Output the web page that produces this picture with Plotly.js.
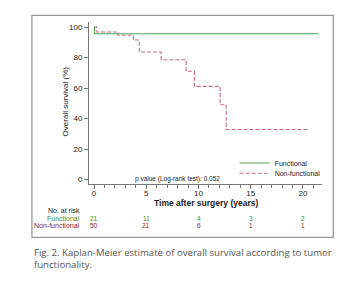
<!DOCTYPE html>
<html>
<head>
<meta charset="utf-8">
<script src="https://cdn.plot.ly/plotly-3.0.1.min.js"></script>
<style>html,body{margin:0;padding:0;background:#fff;}#chart{width:357px;height:289px;}</style>
</head>
<body>
<div id="chart"></div>
<script>
// Kaplan-Meier step data
var funcTime = [0, 0.05, 21.5];
var funcSurv = [100, 95.6, 95.6];
var nonTime = [0, 0.26, 2.3, 3.77, 4.34, 6.42, 8.82, 9.61, 12.07, 12.65, 20.6];
var nonSurv = [100, 96.7, 94.6, 91.5, 83.6, 78.6, 71.0, 61.1, 49.1, 32.8, 32.8];
// number at risk
var riskTimes = [0, 5, 10, 15, 20];
var riskFunc = [21, 11, 4, 3, 2];
var riskNon = [50, 21, 6, 1, 1];
var xTicks = [0, 5, 10, 15, 20];
var yTicks = [0, 20, 40, 60, 80, 100];

var FONT = 'Liberation Sans Narrow, Arial Narrow, Liberation Sans, Arial, sans-serif';
var GREEN = 'rgb(85,160,85)';
var RED = 'rgb(192,110,125)';
var GREENTXT = 'rgb(60,140,60)';
var REDTXT = 'rgb(140,35,55)';

var traces = [
  {x: funcTime, y: funcSurv, mode: 'lines', line: {shape: 'hv', color: GREEN, width: 1.1},
   name: 'Functional', legend: 'legend', hoverinfo: 'skip'},
  {x: nonTime, y: nonSurv, mode: 'lines', line: {shape: 'hv', color: RED, width: 1.1, dash: '4px,2px'},
   name: 'Non-functional', legend: 'legend2', hoverinfo: 'skip'}
];

var annotations = [];
function ann(o) { annotations.push(Object.assign({showarrow: false, font: {family: FONT, size: 7, color: '#222'}}, o)); }

ann({text: 'Overall survival (%)', xref: 'paper', yref: 'paper', x: -0.103, y: 0.51, textangle: -90,
     xanchor: 'center', yanchor: 'middle', font: {family: FONT, size: 8, color: '#222'}});
ann({text: '<b>Time after surgery (years)</b>', xref: 'paper', yref: 'paper', x: 0.5, y: -0.118,
     xanchor: 'center', yanchor: 'middle', font: {family: FONT, size: 8.5, color: '#222'}});
ann({text: 'p value (Log-rank test): 0.052', xref: 'x', yref: 'paper', x: 8.0, y: 0.033,
     xanchor: 'center', yanchor: 'middle', font: {family: FONT, size: 6.5, color: '#222'}});
ann({text: 'No. at risk', xref: 'paper', yref: 'paper', x: -0.028, y: -0.162, xanchor: 'right', yanchor: 'middle',
     font: {family: FONT, size: 7, color: '#222'}});
ann({text: 'Functional', xref: 'paper', yref: 'paper', x: -0.028, y: -0.21, xanchor: 'right', yanchor: 'middle',
     font: {family: FONT, size: 7, color: GREENTXT}});
ann({text: 'Non-functional', xref: 'paper', yref: 'paper', x: -0.028, y: -0.257, xanchor: 'right', yanchor: 'middle',
     font: {family: FONT, size: 7, color: REDTXT}});
for (var i = 0; i < riskTimes.length; i++) {
  ann({text: String(riskFunc[i]), xref: 'x', yref: 'paper', x: riskTimes[i], y: -0.21, xanchor: 'center', yanchor: 'middle',
       font: {family: FONT, size: 6.5, color: GREENTXT}});
  ann({text: String(riskNon[i]), xref: 'x', yref: 'paper', x: riskTimes[i], y: -0.257, xanchor: 'center', yanchor: 'middle',
       font: {family: FONT, size: 6.5, color: REDTXT}});
}
// caption
ann({text: 'Fig. 2. Kaplan-Meier estimate of overall survival according to tumor<br>functionality.',
     xref: 'paper', yref: 'paper', x: -0.245, y: -0.37, xanchor: 'left', yanchor: 'top', align: 'left',
     font: {family: 'Open Sans, Noto Sans, sans-serif', size: 9.6, color: '#555'}});

var layout = {
  width: 357, height: 289,
  margin: {l: 89, r: 35.3, t: 21.7, b: 105.3, pad: 0, autoexpand: false},
  paper_bgcolor: '#fff', plot_bgcolor: '#fff',
  font: {family: FONT, size: 8, color: '#222'},
  showlegend: true,
  xaxis: {
    range: [-0.48, 21.82], tickvals: xTicks, ticktext: xTicks.map(String),
    showgrid: false, zeroline: false, showline: true, linecolor: '#777', linewidth: 1,
    ticks: 'outside', ticklen: 4, tickcolor: '#777', tickwidth: 1, ticklabelstandoff: -3,
    minor: {dtick: 1, tick0: 0, ticks: 'outside', ticklen: 3, tickcolor: '#777', showgrid: false},
    tickfont: {family: FONT, size: 8, color: '#222'}, fixedrange: true, automargin: false
  },
  yaxis: {
    range: [-2.9, 103.3], tickvals: yTicks, ticktext: yTicks.map(String),
    showgrid: false, zeroline: false, showline: true, linecolor: '#777', linewidth: 1,
    ticks: 'outside', ticklen: 4, tickcolor: '#777', tickwidth: 1,
    tickfont: {family: FONT, size: 8, color: '#222'}, fixedrange: true, automargin: false
  },
  legend: {x: 0.625, y: 0.13, xanchor: 'left', yanchor: 'middle', bgcolor: 'rgba(0,0,0,0)',
           font: {family: FONT, size: 7, color: '#222'}, itemwidth: 30, borderwidth: 0},
  legend2: {x: 0.625, y: 0.066, xanchor: 'left', yanchor: 'middle', bgcolor: 'rgba(0,0,0,0)',
           font: {family: FONT, size: 7, color: '#222'}, itemwidth: 30, borderwidth: 0},
  shapes: [
    {type: 'rect', xref: 'paper', yref: 'paper', x0: -0.245, x1: 1.0486, y0: -0.329, y1: 1.0414,
     line: {color: '#999', width: 1.3}, fillcolor: 'rgba(0,0,0,0)', layer: 'below'}
  ],
  annotations: annotations
};

Plotly.newPlot('chart', traces, layout, {staticPlot: true, displayModeBar: false});
</script>
</body>
</html>
